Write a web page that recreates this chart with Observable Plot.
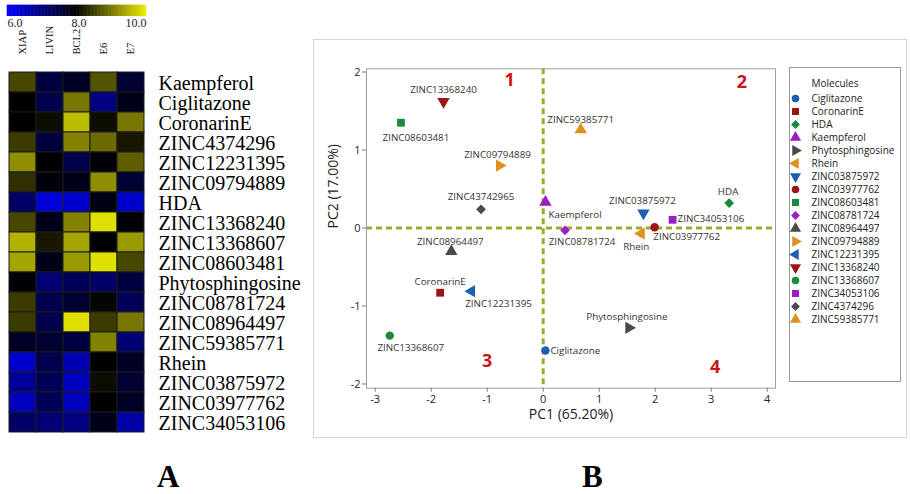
<!DOCTYPE html>
<html><head><meta charset="utf-8">
<script src="https://cdn.jsdelivr.net/npm/d3@7"></script>
<script src="https://cdn.jsdelivr.net/npm/@observablehq/plot@0.6"></script>
<style>
body{margin:0;background:#fff;}
#root{position:relative;width:910px;height:494px;overflow:hidden;background:#fff;}
#root > svg, #root > div{position:absolute;}
#panelB{left:313px;top:39px;width:594px;height:399px;border:1.5px solid #d6d6d6;box-sizing:border-box;}
.letter{font-family:"Liberation Serif",serif;font-weight:bold;font-size:31px;line-height:31px;color:#000;}
</style></head><body><div id="root"><div id="panelB"></div></div>
<script>
// ---------- Panel A data ----------
const genes = ["XIAP", "LIVIN", "BCL2", "E6", "E7"];
const compounds = ["Kaempferol", "Ciglitazone", "CoronarinE", "ZINC4374296", "ZINC12231395", "ZINC09794889", "HDA",
  "ZINC13368240", "ZINC13368607", "ZINC08603481", "Phytosphingosine", "ZINC08781724", "ZINC08964497",
  "ZINC59385771", "Rhein", "ZINC03875972", "ZINC03977762", "ZINC34053106"];
const expression = [
  [8.6, 7.5, 7.7, 8.7, 7.6],
  [8.0, 7.4, 9.0, 7.0, 7.8],
  [8.0, 8.1, 9.6, 8.1, 9.0],
  [8.5, 7.5, 9.1, 8.9, 8.2],
  [9.2, 8.0, 7.4, 7.95, 8.8],
  [8.4, 7.9, 7.8, 9.2, 7.6],
  [7.2, 6.3, 6.4, 7.85, 6.4],
  [8.6, 7.8, 9.1, 9.9, 7.95],
  [9.5, 8.2, 9.4, 8.0, 9.3],
  [9.4, 7.8, 9.3, 9.9, 8.6],
  [7.95, 7.1, 7.3, 7.2, 7.5],
  [8.5, 7.4, 7.6, 8.05, 7.3],
  [8.5, 7.4, 9.9, 8.5, 9.0],
  [7.7, 7.6, 7.5, 9.1, 7.1],
  [6.4, 7.4, 6.6, 8.0, 7.7],
  [6.8, 7.3, 6.5, 8.1, 7.6],
  [6.5, 7.3, 6.5, 8.0, 7.7],
  [7.2, 7.1, 7.0, 7.8, 6.7]
];
const colorbarTicks = [6.0, 8.0, 10.0];

// ---------- Panel B data ----------
const molecules = ["Ciglitazone", "CoronarinE", "HDA", "Kaempferol", "Phytosphingosine", "Rhein",
  "ZINC03875972", "ZINC03977762", "ZINC08603481", "ZINC08781724", "ZINC08964497", "ZINC09794889",
  "ZINC12231395", "ZINC13368240", "ZINC13368607", "ZINC34053106", "ZINC4374296", "ZINC59385771"];
const pointLabels = ["Ciglitazone", "CoronarinE", "HDA", "Kaempferol", "Phytosphingosine", "Rhein",
  "ZINC03875972", "ZINC03977762", "ZINC08603481", "ZINC08781724", "ZINC08964497", "ZINC09794889",
  "ZINC12231395", "ZINC13368240", "ZINC13368607", "ZINC34053106", "ZINC43742965", "ZINC59385771"];
const pc1 = [0.04, -1.84, 3.32, 0.04, 1.53, 1.75, 1.79, 1.99, -2.54, 0.39, -1.64, -0.78, -1.28, -1.78, -2.74, 2.31, -1.11, 0.67];
const pc2 = [-1.57, -0.83, 0.32, 0.33, -1.28, -0.07, 0.19, 0.01, 1.35, -0.03, -0.30, 0.80, -0.81, 1.62, -1.38, 0.105, 0.24, 1.26];
const xTicks = [-3, -2, -1, 0, 1, 2, 3, 4];
const yTicks = [-2, -1, 0, 1, 2];
const quadrantNames = ["1", "2", "3", "4"];
const quadrantPC1 = [-0.6, 3.55, -1.0, 3.07];
const quadrantPC2 = [1.9, 1.87, -1.71, -1.78];

// ---------- styles (not data) ----------
const BLUE = "#1d5fb0", RED = "#9e1414", GREEN = "#1b8a3a", PURPLE = "#9a1ec6", GRAY = "#4a4a4a", ORANGE = "#e0901e";
const molStyle = [
  ["circle", BLUE], ["square", RED], ["diamond", GREEN], ["up", PURPLE], ["right", GRAY], ["left", ORANGE],
  ["down", BLUE], ["circle", RED], ["square", GREEN], ["diamond", PURPLE], ["up", GRAY], ["right", ORANGE],
  ["left", BLUE], ["down", RED], ["circle", GREEN], ["square", PURPLE], ["diamond", GRAY], ["up", ORANGE]
];
// label offsets in pixels [dx, dy, anchor]
const labelPlace = [
  [5, 0, "start"], [0, -11, "middle"], [-1, -11, "middle"], [3, 13, "start"], [-2, -11, "middle"], [-5, 13, "middle"],
  [-1, -12, "middle"], [32, 10, "middle"], [15, 15, "middle"], [17, 12, "middle"], [-1, -10, "middle"], [-2, -11, "middle"],
  [27, 13, "middle"], [0, -12, "middle"], [21, 12, "middle"], [5, -1, "start"], [0, -12, "middle"], [0, -10, "middle"]
];

const s3 = Math.sqrt(3);
const triangle = (dir) => ({
  draw(ctx, size) {
    const y = -Math.sqrt(size / (s3 * 3));
    let pts = [[0, 2 * y], [-s3 * y, -y], [s3 * y, -y]]; // up
    if (dir === "down") pts = pts.map(([a, b]) => [a, -b]);
    if (dir === "right") pts = pts.map(([a, b]) => [-b, a]);
    if (dir === "left") pts = pts.map(([a, b]) => [b, a]);
    ctx.moveTo(pts[0][0], pts[0][1]);
    ctx.lineTo(pts[1][0], pts[1][1]);
    ctx.lineTo(pts[2][0], pts[2][1]);
    ctx.closePath();
  }
});
const symbolFor = {circle: "circle", square: "square", diamond: "diamond2",
  up: triangle("up"), down: triangle("down"), right: triangle("right"), left: triangle("left")};
const shapeOrder = ["circle", "square", "diamond", "up", "down", "right", "left"];
const shapeR = {circle: 4.2, square: 4.4, diamond: 4.4, up: 4.6, down: 4.6, right: 4.6, left: 4.6};

const root = document.getElementById("root");
const place = (el, left, top) => { el.style.left = left + "px"; el.style.top = top + "px"; root.appendChild(el); };

// ---------- colour scale ----------
const heatColor = {type: "linear", domain: [6, 8, 10], range: ["#0000ff", "#000000", "#ecec00"], interpolate: "rgb"};

// colour bar
const step = 0.04;
const barBins = d3.range(6, 10, step).map(v => ({x1: v, x2: v + step, v: v + step / 2}));
const bar = Plot.plot({
  width: 160, height: 32, marginLeft: 7, marginRight: 14, marginTop: 5, marginBottom: 16.3,
  x: {domain: [6, 10], axis: null}, y: {domain: [0, 1], axis: null},
  color: heatColor,
  style: {fontFamily: "Liberation Serif, serif", fontSize: "12px", background: "transparent", overflow: "visible"},
  marks: [
    Plot.rect(barBins, {x1: "x1", x2: "x2", y1: 0, y2: 1, fill: "v", stroke: "v", strokeWidth: 0.6}),
    Plot.text([colorbarTicks[0]], {x: d => d, frameAnchor: "bottom", lineAnchor: "top", dy: 2, textAnchor: "start", text: d => d.toFixed(1), fill: "#222"}),
    Plot.text([colorbarTicks[1]], {x: d => d, frameAnchor: "bottom", lineAnchor: "top", dy: 2, dx: 2, textAnchor: "middle", text: d => d.toFixed(1), fill: "#222"}),
    Plot.text([colorbarTicks[2]], {x: d => d, frameAnchor: "bottom", lineAnchor: "top", dy: 2, textAnchor: "end", text: d => d.toFixed(1), fill: "#222"})
  ]
});
place(bar, 0, 0);

// heatmap
const cells = compounds.flatMap((c, i) => genes.map((g, j) => ({compound: c, gene: g, value: expression[i][j]})));
const heat = Plot.plot({
  width: 160, height: 445, marginLeft: 7, marginRight: 14, marginTop: 65, marginBottom: 6,
  x: {domain: genes, padding: 0}, y: {domain: compounds, padding: 0, axis: null},
  color: heatColor,
  style: {fontFamily: "Liberation Serif, serif", background: "transparent", overflow: "visible"},
  marks: [
    Plot.cell(cells, {x: "gene", y: "compound", fill: "value", stroke: "#1c1c1c", strokeWidth: 1}),
    Plot.axisX({anchor: "top", tickRotate: -90, tickSize: 0, tickPadding: 11, fontSize: 10.5, label: null, fill: "#111"})
  ]
});
place(heat, 0, 0);

// row labels
const rows = Plot.plot({
  width: 160, height: 445, margin: 0,
  y: {type: "point", domain: compounds, range: [80.3, 426.7], padding: 0, axis: null},
  x: {axis: null},
  style: {fontFamily: "Liberation Serif, serif", background: "transparent", overflow: "visible"},
  marks: [
    Plot.text(compounds, {y: d => d, text: d => d, frameAnchor: "left", dx: 8, textAnchor: "start", fontSize: 20, fill: "#000"})
  ]
});
place(rows, 150, 0);

// ---------- Panel B scatter ----------
const points = molecules.map((m, i) => ({name: m, label: pointLabels[i], x: pc1[i], y: pc2[i], shape: molStyle[i][0], color: molStyle[i][1], place: labelPlace[i]}));
const quads = quadrantNames.map((q, i) => ({q, x: quadrantPC1[i], y: quadrantPC2[i]}));

const scatter = Plot.plot({
  width: 470, height: 399, marginLeft: 53, marginRight: 8, marginTop: 29.3, marginBottom: 50.3,
  x: {domain: [-3.155, 4.148]}, y: {domain: [-2.054, 2.041]},
  color: {type: "identity"},
  style: {fontFamily: "Open Sans, sans-serif", background: "transparent", overflow: "visible", color: "#222"},
  marks: [
    Plot.ruleX([0], {stroke: "#9aac2c", strokeWidth: 3, strokeDasharray: "6,4"}),
    Plot.ruleY([0], {stroke: "#9aac2c", strokeWidth: 3, strokeDasharray: "6,4"}),
    Plot.frame({stroke: "#a0a0a0"}),
    Plot.axisX(xTicks, {tickSize: 4, tickPadding: 3, label: null, tickFormat: d => String(d), fontSize: 11, stroke: "#777", fill: "#222"}),
    Plot.axisY(yTicks, {tickSize: 4, tickPadding: 2, label: null, tickFormat: d => String(d), fontSize: 11, stroke: "#777", fill: "#222"}),
    Plot.text(["PC1 (65.20%)"], {frameAnchor: "bottom", dy: 31, fontSize: 14, fill: "#222"}),
    Plot.text(["PC2 (17.00%)"], {frameAnchor: "left", dx: -33, rotate: -90, fontSize: 14, fill: "#222"}),
    Plot.text(quads, {x: "x", y: "y", text: "q", fill: "#cc1515", fontSize: 18, fontWeight: "bold"}),
    ...shapeOrder.map(s => Plot.dot(points.filter(d => d.shape === s), {x: "x", y: "y", fill: "color", r: shapeR[s], symbol: symbolFor[s]})),
    ...points.map(p => Plot.text([p], {x: "x", y: "y", text: "label", dx: p.place[0], dy: p.place[1], textAnchor: p.place[2], fontSize: 9.8, fill: "#333"}))
  ]
});
place(scatter, 313, 39);

// legend
const legend = Plot.plot({
  width: 111, height: 314, margin: 0,
  y: {type: "point", domain: molecules, range: [24.7, 258.1], padding: 0, axis: null},
  x: {axis: null},
  color: {type: "identity"},
  style: {fontFamily: "Open Sans, sans-serif", background: "transparent", overflow: "visible"},
  marks: [
    Plot.frame({stroke: "#999"}),
    Plot.text(["Molecules"], {frameAnchor: "top-left", dx: 22, dy: 12, textAnchor: "start", fontSize: 10, fill: "#222"}),
    ...shapeOrder.map(s => Plot.dot(points.filter(d => d.shape === s), {y: "name", frameAnchor: "left", dx: 6, fill: "color", r: shapeR[s] * 0.9, symbol: symbolFor[s]})),
    Plot.text(points, {y: "name", text: "name", frameAnchor: "left", dx: 22, textAnchor: "start", fontSize: 10, fill: "#222"})
  ]
});
place(legend, 789, 67);

// panel letters
const la = document.createElement("div"); la.className = "letter"; la.textContent = "A"; place(la, 157, 461);
const lb = document.createElement("div"); lb.className = "letter"; lb.textContent = "B"; place(lb, 582, 461);
</script></body></html>
